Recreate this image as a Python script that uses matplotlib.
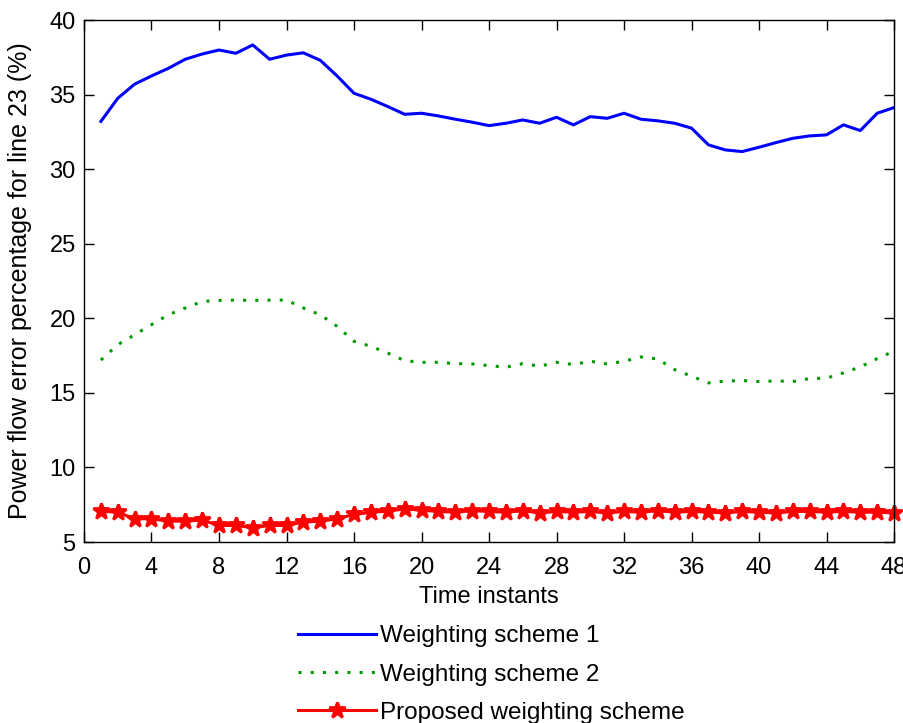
import numpy as np
import matplotlib
matplotlib.use('Agg')
import matplotlib.pyplot as plt

plt.rcParams['font.family'] = ['Liberation Sans', 'DejaVu Sans']

# time instants 1..48
t = list(range(1, 49))

# weighting scheme 1 (blue)
ws1 = [33.2, 34.75, 35.7, 36.25, 36.76, 37.37, 37.72, 37.99, 37.77, 38.33,
       37.37, 37.65, 37.8, 37.3, 36.25, 35.09, 34.69, 34.2, 33.68, 33.75,
       33.57, 33.35, 33.15, 32.92, 33.08, 33.3, 33.08, 33.48, 32.97, 33.52,
       33.41, 33.75, 33.35, 33.24, 33.08, 32.75, 31.63, 31.29, 31.18, 31.47,
       31.78, 32.07, 32.23, 32.3, 32.97, 32.59, 33.75, 34.13]

# weighting scheme 2 (green dotted)
ws2 = [17.2, 18.23, 18.9, 19.57, 20.24, 20.69, 21.13, 21.2, 21.22, 21.2,
       21.22, 21.22, 20.69, 20.24, 19.46, 18.46, 18.12, 17.67, 17.16, 17.05,
       17.05, 16.96, 16.94, 16.83, 16.72, 16.96, 16.79, 17.05, 16.9, 17.12,
       16.94, 17.12, 17.41, 17.27, 16.56, 16.12, 15.67, 15.79, 15.83, 15.76,
       15.8, 15.76, 15.96, 15.99, 16.34, 16.74, 17.3, 17.8]

# proposed scheme (red)
prop = [7.07, 6.99, 6.56, 6.56, 6.4, 6.4, 6.47, 6.11, 6.11, 5.96,
        6.11, 6.11, 6.34, 6.4, 6.56, 6.85, 6.99, 7.07, 7.22, 7.13,
        7.05, 7.0, 7.1, 7.05, 7.0, 7.1, 6.95, 7.05, 7.0, 7.05,
        6.95, 7.05, 7.0, 7.1, 7.0, 7.05, 7.0, 6.95, 7.05, 7.0,
        6.95, 7.05, 7.05, 7.0, 7.05, 7.0, 7.0, 6.95]

xticks = list(range(0, 49, 4))
yticks = [5, 10, 15, 20, 25, 30, 35, 40]

fig = plt.figure(figsize=(9.04, 7.23), dpi=100)
ax = fig.add_axes([0.0929, 0.2503, 0.8961, 0.722])

ax.plot(t, ws1, color='#0000ff', lw=2.2, label='Weighting scheme 1')
ax.plot(t, ws2, color='#009900', lw=2.2, ls=(0, (1, 3)), label='Weighting scheme 2')
ax.plot(t, prop, color='#ff0000', lw=2.2, marker='*', ms=12, mew=2,
        label='Proposed weighting scheme', clip_on=False)

ax.set_xlim(0, 48)
ax.set_ylim(5, 40)
ax.set_xticks(xticks)
ax.set_yticks(yticks)
ax.tick_params(direction='in', length=7, width=1, labelsize=17,
               top=True, right=True)
ax.tick_params(axis='x', pad=11)
ax.tick_params(axis='y', pad=6)
for s in ax.spines.values():
    s.set_linewidth(1)

ax.set_xlabel('Time instants', fontsize=17, va='top')
ax.set_ylabel('Power flow error percentage for line 23 (%)', fontsize=18)
ax.xaxis.set_label_coords(0.5, -0.084)
ax.yaxis.set_label_coords(-0.064, 0.5)

leg = fig.legend(loc='upper left', bbox_to_anchor=(0.33, 0.135), frameon=False,
                 fontsize=17.5, handlelength=3.2, handletextpad=0.15,
                 labelspacing=0.67, borderaxespad=0, borderpad=0)

fig.savefig('out.png', dpi=100)
